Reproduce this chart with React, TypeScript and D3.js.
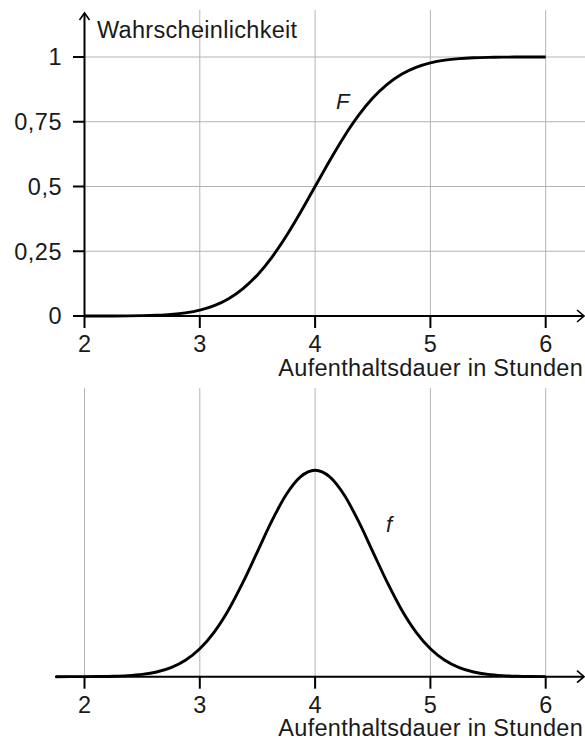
import React from "react";
import * as d3 from "d3";

const xs = [1.75, 2, 2.125, 2.25, 2.375, 2.5, 2.625, 2.75, 2.875, 3, 3.125, 3.25, 3.375, 3.5, 3.625, 3.75, 3.875, 4,
  4.125, 4.25, 4.375, 4.5, 4.625, 4.75, 4.875, 5, 5.125, 5.25, 5.375, 5.5, 5.625, 5.75, 5.875, 6];
// Distribution function F (top panel)
const Fvals = [0, 0.00003, 0.00009, 0.00023, 0.00058, 0.00135, 0.00298, 0.00621, 0.01222, 0.02275, 0.04006, 0.06681,
  0.10565, 0.15866, 0.22663, 0.30854, 0.40129, 0.5, 0.59871, 0.69146, 0.77337, 0.84134, 0.89435, 0.93319, 0.95994,
  0.97725, 0.98778, 0.99379, 0.99702, 0.99865, 0.99942, 0.99977, 0.99991, 0.99997];
// Density function f (bottom panel)
const fvals = [0, 0.0003, 0.0007, 0.0017, 0.0041, 0.0089, 0.0182, 0.0351, 0.0635, 0.108, 0.1726, 0.259, 0.3653, 0.4839,
  0.6023, 0.7041, 0.7733, 0.7979, 0.7733, 0.7041, 0.6023, 0.4839, 0.3653, 0.259, 0.1726, 0.108, 0.0635, 0.0351, 0.0182,
  0.0089, 0.0041, 0.0017, 0.0007, 0.0003];

const xTicks = [2, 3, 4, 5, 6];
const yTicks = [0, 0.25, 0.5, 0.75, 1];
const yTickLabels = ["0", "0,25", "0,5", "0,75", "1"];
const xAxisTitle = "Aufenthaltsdauer in Stunden";
const yAxisTitle = "Wahrscheinlichkeit";

const FONT = "'Liberation Sans', Arial, Helvetica, sans-serif";
const TXT = "#1a1a1a";
const GRID = "#b4b4b4";
const FS = 23.5;

export default function App() {
  const x = d3.scaleLinear().domain([2, 6]).range([84.5, 545.7]);
  const yTop = d3.scaleLinear().domain([0, 1]).range([316, 57]);
  const yBot = d3.scaleLinear().domain([0, 1]).range([676.7, 418]);

  const topLine = d3
    .line<number>()
    .x((_, i) => x(xs[i + 1]))
    .y((d) => yTop(d))
    .curve(d3.curveMonotoneX);
  const botLine = d3
    .line<number>()
    .x((_, i) => x(xs[i]))
    .y((d) => yBot(d))
    .curve(d3.curveMonotoneX);

  const topPath = topLine(Fvals.slice(1)) || "";
  const botPath = botLine(fvals) || "";

  const y0t = yTop(0);
  const y0b = yBot(0);
  const axisRight = 584;

  return (
    <svg
      width={585}
      height={740}
      style={{ position: "absolute", left: 0, top: 0, background: "#fff" }}
      fontFamily={FONT}
    >
      {/* ---------- top panel ---------- */}
      {yTicks.slice(1).map((t) => (
        <line key={"hg" + t} x1={x(2)} x2={585} y1={yTop(t)} y2={yTop(t)} stroke={GRID} strokeWidth={1} />
      ))}
      {xTicks.slice(1).map((t) => (
        <line key={"vg" + t} x1={x(t)} x2={x(t)} y1={10} y2={y0t} stroke={GRID} strokeWidth={1} />
      ))}
      <line x1={x(2)} x2={x(2)} y1={14} y2={y0t + 1} stroke="#000" strokeWidth={2} />
      <path d={`M${x(2) - 5},${20} L${x(2)},${13} L${x(2) + 5},${20}`} fill="none" stroke="#000" strokeWidth={1.6} />
      {yTicks.map((t, i) => (
        <g key={"yt" + t}>
          <line x1={73} x2={x(2)} y1={yTop(t)} y2={yTop(t)} stroke="#000" strokeWidth={2} />
          <text x={62} y={yTop(t)} dy="0.36em" textAnchor="end" fontSize={FS} letterSpacing={0.5} fill={TXT}>
            {yTickLabels[i]}
          </text>
        </g>
      ))}
      <text x={97} y={38} fontSize={FS} letterSpacing={0.3} fill={TXT}>
        {yAxisTitle}
      </text>
      <line x1={x(2)} x2={axisRight} y1={y0t} y2={y0t} stroke="#000" strokeWidth={2} />
      <path d={`M${axisRight - 7},${y0t - 6} L${axisRight},${y0t} L${axisRight - 7},${y0t + 6}`} fill="none" stroke="#000" strokeWidth={1.6} />
      {xTicks.map((t) => (
        <g key={"xt" + t}>
          <line x1={x(t)} x2={x(t)} y1={y0t} y2={y0t + 12} stroke="#000" strokeWidth={2} />
          <text x={x(t)} y={352} textAnchor="middle" fontSize={FS} fill={TXT}>
            {t}
          </text>
        </g>
      ))}
      <text x={583} y={376} textAnchor="end" fontSize={FS} letterSpacing={0.3} fill={TXT}>
        {xAxisTitle}
      </text>
      <path d={topPath} fill="none" stroke="#000" strokeWidth={2.9} />
      <text x={336} y={109} fontSize={22} fontStyle="italic" fill={TXT}>
        F
      </text>

      {/* ---------- bottom panel ---------- */}
      {xTicks.map((t) => (
        <line key={"vgb" + t} x1={x(t)} x2={x(t)} y1={388} y2={y0b} stroke={GRID} strokeWidth={1} />
      ))}
      <line x1={55} x2={axisRight} y1={y0b} y2={y0b} stroke="#000" strokeWidth={2} />
      <path d={`M${axisRight - 7},${y0b - 6} L${axisRight},${y0b} L${axisRight - 7},${y0b + 6}`} fill="none" stroke="#000" strokeWidth={1.6} />
      {xTicks.map((t) => (
        <g key={"xtb" + t}>
          <line x1={x(t)} x2={x(t)} y1={y0b} y2={y0b + 12} stroke="#000" strokeWidth={2} />
          <text x={x(t)} y={713} textAnchor="middle" fontSize={FS} fill={TXT}>
            {t}
          </text>
        </g>
      ))}
      <text x={583} y={736} textAnchor="end" fontSize={FS} letterSpacing={0.3} fill={TXT}>
        {xAxisTitle}
      </text>
      <path d={botPath} fill="none" stroke="#000" strokeWidth={2.9} />
      <text x={386} y={532} fontSize={22} fontStyle="italic" fill={TXT}>
        f
      </text>
    </svg>
  );
}
